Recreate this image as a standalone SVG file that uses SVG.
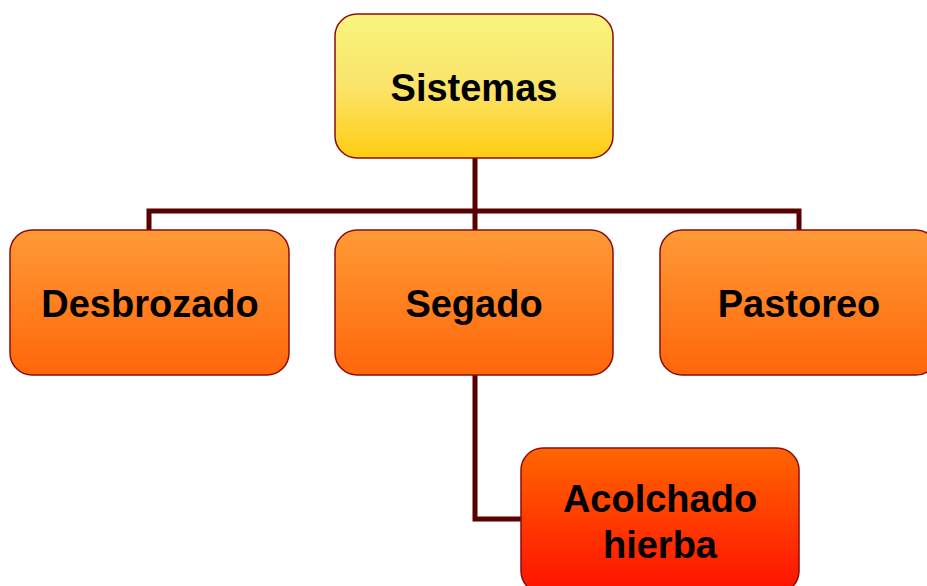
<svg xmlns="http://www.w3.org/2000/svg" width="927" height="586" viewBox="0 0 927 586">
<defs>
<linearGradient id="gY" x1="0" y1="0" x2="0" y2="1"><stop offset="0" stop-color="#F8F47E"/><stop offset="0.5" stop-color="#FAE46A"/><stop offset="1" stop-color="#FFCC11"/></linearGradient>
<linearGradient id="gO" x1="0" y1="0" x2="0" y2="1"><stop offset="0" stop-color="#FF9A36"/><stop offset="1" stop-color="#FF660A"/></linearGradient>
<linearGradient id="gR" x1="0" y1="0" x2="0" y2="1"><stop offset="0" stop-color="#FF6600"/><stop offset="1" stop-color="#FF1000"/></linearGradient>
<style>
.box{stroke:#8B0D0D;stroke-width:1.5}
.t{font-family:"Liberation Sans",Arial,sans-serif;font-weight:bold;font-size:38px;fill:#000;text-anchor:middle}
.c{fill:none;stroke:#5A0000;stroke-width:5}
</style>
</defs>
<g id="connectors">
<path class="c" d="M475 158 V230"/>
<path class="c" d="M149 230 V211 H799 V230"/>
<path class="c" d="M475 375 V519 H521"/>
</g>
<g id="sistemas"><rect class="box" x="335" y="14" width="278" height="144" rx="22" fill="url(#gY)"/><text class="t" x="474" y="101">Sistemas</text></g>
<g id="desbrozado"><rect class="box" x="10" y="230" width="279" height="145" rx="22" fill="url(#gO)"/><text class="t" x="150" y="317">Desbrozado</text></g>
<g id="segado"><rect class="box" x="335" y="230" width="278" height="145" rx="22" fill="url(#gO)"/><text class="t" x="474" y="317">Segado</text></g>
<g id="pastoreo"><rect class="box" x="660" y="230" width="278" height="145" rx="22" fill="url(#gO)"/><text class="t" x="799" y="317">Pastoreo</text></g>
<g id="acolchado"><rect class="box" x="521" y="448" width="278" height="145" rx="22" fill="url(#gR)"/><text class="t" x="660" y="512">Acolchado</text><text class="t" x="660" y="558">hierba</text></g>
</svg>
